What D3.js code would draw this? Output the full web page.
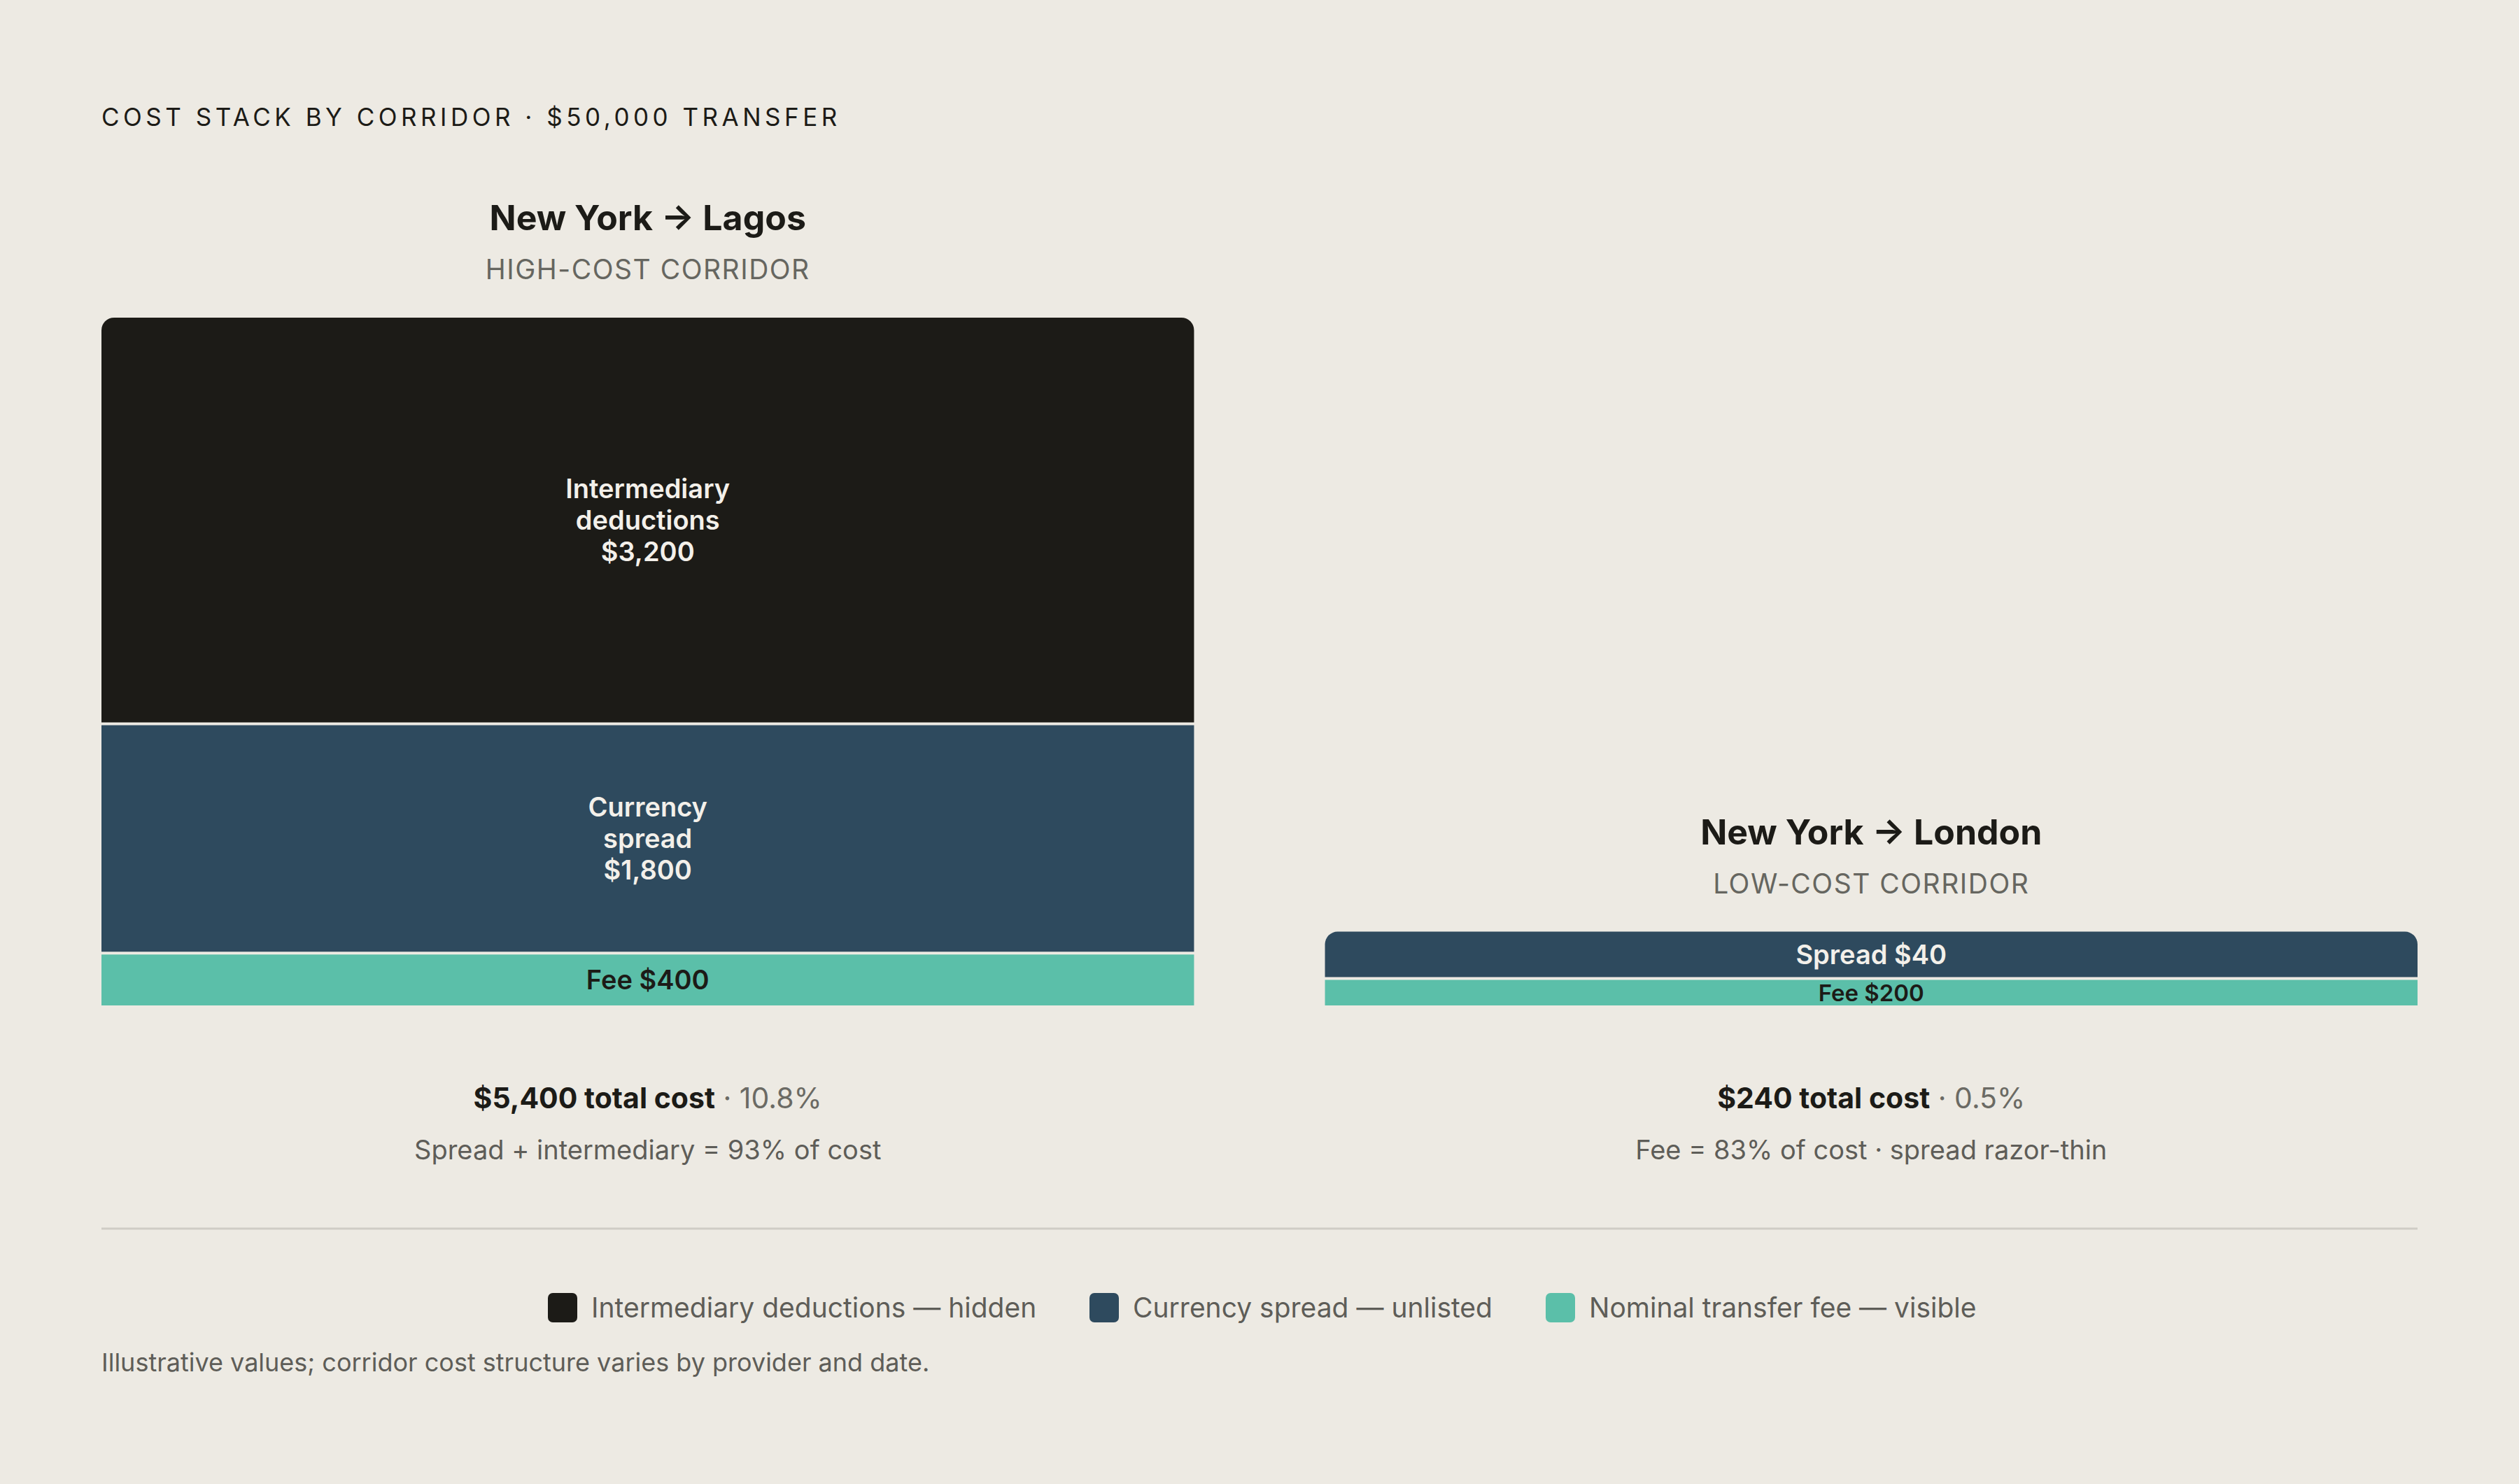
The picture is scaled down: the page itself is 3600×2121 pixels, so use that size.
<!DOCTYPE html>
<html><head><meta charset="utf-8">
<script src="https://cdn.jsdelivr.net/npm/d3@7"></script>
<style>body{margin:0;background:#edeae3;}svg{display:block;font-family:Inter,sans-serif;}</style>
</head><body><svg id="c" width="3600" height="2121"></svg>
<script>
const corridors = ["New York → Lagos", "New York → London"];
const subtitles = ["HIGH-COST CORRIDOR", "LOW-COST CORRIDOR"];
const seriesKeys = ["fee", "spread", "intermediary"];
const feeValues = [400, 200];
const spreadValues = [1800, 40];
const intermediaryValues = [3200, 0];
const totalsText = ["$5,400 total cost", "$240 total cost"];
const pctText = ["10.8%", "0.5%"];
const notes = ["Spread + intermediary = 93% of cost", "Fee = 83% of cost · spread razor-thin"];
const legendLabels = ["Intermediary deductions — hidden", "Currency spread — unlisted", "Nominal transfer fee — visible"];
const colors = {intermediary:"#1c1b17", spread:"#2e4a5e", fee:"#5bbfa9"};

const svg = d3.select("#c");
svg.append("rect").attr("width",3600).attr("height",2121).attr("fill","#edeae3");
svg.append("text").attr("x",145).attr("y",180).attr("font-size",35).attr("letter-spacing",5.5)
  .attr("fill","#1c1b17").text("COST STACK BY CORRIDOR · $50,000 TRANSFER");

const x = d3.scaleBand().domain(corridors).range([145,3455]).paddingInner(0.107);
const baseY = 1437;
const h = d3.scaleLinear().domain([0,5400]).range([0,983]);
const minH = {fee:0, spread:69, intermediary:0};
const data = corridors.map((c,i)=>({c, fee:feeValues[i], spread:spreadValues[i], intermediary:intermediaryValues[i]}));
const labelFor = (k,v,i)=>{
  if(k==="fee") return ["Fee $"+d3.format(",")(v)];
  if(k==="spread") return i===0 ? ["Currency","spread","$"+d3.format(",")(v)] : ["Spread $"+v];
  return ["Intermediary","deductions","$"+d3.format(",")(v)];
};
data.forEach((d,i)=>{
  const g = svg.append("g");
  const x0 = x(d.c), w = x.bandwidth(), cx = x0+w/2;
  let y = baseY;
  const segs=[];
  seriesKeys.forEach(k=>{
    const v=d[k]; if(!v) return;
    const hh=Math.max(h(v),minH[k]);
    segs.push({k,v,y0:y-hh,y1:y}); y-=hh;
  });
  segs.forEach((s,j)=>{
    const top = j===segs.length-1;
    const gap = j>0 ? 4 : 0;
    const y0=s.y0, y1=s.y1-gap, r=top?18:0;
    const p=d3.path();
    p.moveTo(x0,y1); p.lineTo(x0,y0+r);
    if(r) p.arcTo(x0,y0,x0+r,y0,r);
    p.lineTo(x0+w-r,y0);
    if(r) p.arcTo(x0+w,y0,x0+w,y0+r,r);
    p.lineTo(x0+w,y1); p.closePath();
    g.append("path").attr("d",p.toString()).attr("fill",colors[s.k]);
    const lines=labelFor(s.k,s.v,i);
    const fs = (s.k==="fee"&&i===1)?33:38;
    const lh=45, mid=(y0+y1)/2;
    lines.forEach((t,li)=>{
      g.append("text").attr("x",cx).attr("y",mid+(li-(lines.length-1)/2)*lh)
        .attr("dy","0.36em").attr("text-anchor","middle").attr("font-size",fs).attr("font-weight",600)
        .attr("fill",s.k==="fee"?"#1c1b17":"#f3f0ea").text(t);
    });
  });
  const topY=y;
  svg.append("text").attr("x",cx).attr("y",topY-143+18).attr("text-anchor","middle").attr("font-size",50)
    .attr("font-weight",700).attr("fill","#1c1b17").text(d.c);
  svg.append("text").attr("x",cx).attr("y",topY-69+14).attr("text-anchor","middle").attr("font-size",39)
    .attr("letter-spacing",1.5).attr("fill","#666660").text(subtitles[i]);
  const t=svg.append("text").attr("x",cx).attr("y",1584).attr("text-anchor","middle").attr("font-size",41);
  t.append("tspan").attr("font-weight",700).attr("fill","#1c1b17").text(totalsText[i]);
  t.append("tspan").attr("fill","#6b6a64").text(" · "+pctText[i]);
  svg.append("text").attr("x",cx).attr("y",1657).attr("text-anchor","middle").attr("font-size",38)
    .attr("fill","#5e5d58").text(notes[i]);
});
svg.append("line").attr("x1",145).attr("x2",3455).attr("y1",1756).attr("y2",1756).attr("stroke","#cfccc5").attr("stroke-width",3);
const lx=[783,1557,2209];
legendLabels.forEach((l,i)=>{
  svg.append("rect").attr("x",lx[i]).attr("y",1848).attr("width",42).attr("height",42).attr("rx",7)
    .attr("fill",colors[seriesKeys[2-i]]);
  svg.append("text").attr("x",lx[i]+62).attr("y",1869).attr("dy","0.36em").attr("font-size",39)
    .attr("fill","#5e5d58").text(l);
});
svg.append("text").attr("x",145).attr("y",1960).attr("font-size",36).attr("fill","#5e5d58")
  .text("Illustrative values; corridor cost structure varies by provider and date.");
</script></body></html>
